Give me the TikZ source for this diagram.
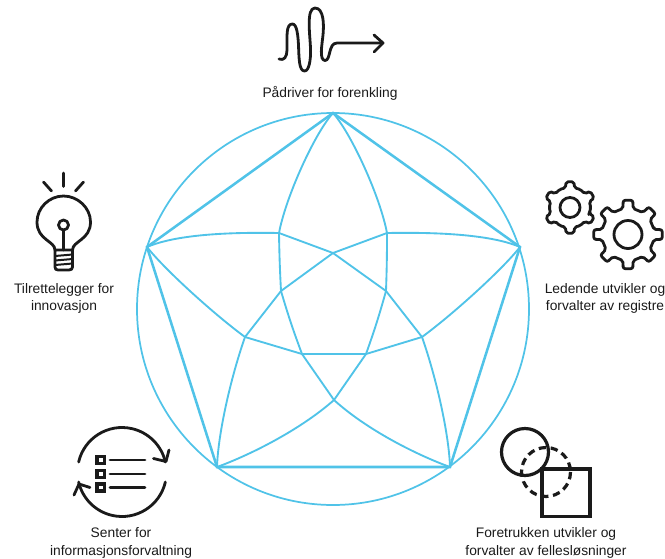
\documentclass[tikz,border=0pt]{standalone}
\usepackage{fontspec}
\setmainfont{Liberation Sans}
\definecolor{wheelblue}{RGB}{80,195,232}
\definecolor{iconblack}{RGB}{26,26,26}
\tikzset{every picture/.style={line width=0.75pt}}
\tikzset{
  rim/.style={draw=wheelblue,line width=1.3pt},
  edge/.style={draw=wheelblue,line width=1.9pt},
  vein/.style={draw=wheelblue,line width=1.4pt},
  icon/.style={draw=iconblack,line width=2.1pt,line cap=round,line join=round},
  heavyicon/.style={draw=iconblack,line width=2.4pt},
  rolelabel/.style={inner sep=0pt,align=center,text=iconblack,font=\fontsize{10.35}{13}\selectfont},
}

\begin{document}
\begin{tikzpicture}[x=0.75pt,y=0.75pt,yscale=-1,xscale=1]
		\useasboundingbox (0,0) rectangle (665,558);
		
		%Wheel
		\coordinate (hub) at (333,309);
		\coordinate (tipN) at (333,113);
		\coordinate (tipE) at (520,247);
		\coordinate (tipSE) at (450,467);
		\coordinate (tipSW) at (217,467);
		\coordinate (tipW) at (147,247);
		\coordinate (armNW) at (279,233);
		\coordinate (armNE) at (387,233);
		\coordinate (armW) at (245,337);
		\coordinate (armE) at (422,337);
		\coordinate (armS) at (334,400);
		\coordinate (coreN) at (333,253);
		\coordinate (coreE) at (386,291);
		\coordinate (coreSE) at (366,354);
		\coordinate (coreSW) at (302,354);
		\coordinate (coreW) at (281,291);
		
		\draw [rim] (hub) circle (196);
		\draw [edge] (tipN) -- (tipE) -- (tipSE) -- (tipSW) -- (tipW) -- cycle;
		
		%long veins
		\draw [vein] (tipN) .. controls (315,133) and (286,196) .. (armNW);
		\draw [vein] (tipN) .. controls (351,133) and (380,196) .. (armNE);
		\draw [vein] (tipW) .. controls (175,235) and (225,232) .. (armNW);
		\draw [vein] (tipE) .. controls (492,235) and (441,232) .. (armNE);
		\draw [vein] (tipW) .. controls (165,270) and (215,315) .. (armW);
		\draw [vein] (tipE) .. controls (502,270) and (452,315) .. (armE);
		\draw [vein] (tipSW) .. controls (218,435) and (230,380) .. (armW);
		\draw [vein] (tipSE) .. controls (449,435) and (437,380) .. (armE);
		\draw [vein] (tipSW) .. controls (250,455) and (300,430) .. (armS);
		\draw [vein] (tipSE) .. controls (417,455) and (367,430) .. (armS);
		
		%inner star
		\draw [vein] (armNW) -- (coreN) -- (armNE);
		\draw [vein] (armNW) to[bend left=1] (coreW);
		\draw [vein] (armNE) to[bend right=1] (coreE);
		\draw [vein] (coreN) -- (coreW) -- (armW);
		\draw [vein] (coreN) -- (coreE) -- (armE);
		\draw [vein] (coreW) to[bend left=2] (coreSW);
		\draw [vein] (coreE) to[bend right=2] (coreSE);
		\draw [vein] (armW) -- (coreSW) -- (coreSE) -- (armE);
		\draw [vein] (coreSW) -- (armS) -- (coreSE);
		
		%Icon: winding road
		\draw [icon] (279,59) .. controls (284,61) and (287,57) .. (287,50) .. controls (287,35) and (286,24) .. (292.5,24) .. controls (297,24) and (298,36) .. (298.5,45) .. controls (299,58) and (299,71) .. (304.5,71) .. controls (309,71) and (311,60) .. (310.5,48) .. controls (310,35) and (306,8) .. (315,8) .. controls (324,8) and (324,25) .. (323,35) .. controls (322,45) and (319,60) .. (325,60.5) .. controls (331,60.5) and (328,43) .. (337,43) -- (383,43);
		\draw [icon] (374,35) -- (383,43) -- (374,52);
		
		%Icon: light bulb
		\draw [icon] (63.5,173) -- (63.5,186.5);
		\draw [icon] (43.5,182) -- (51.5,191);
		\draw [icon] (83.5,182) -- (75.5,191);
		\draw [icon] (55,250) .. controls (55,241) and (37,240) .. (37,222) .. controls (37,208) and (49,196) .. (63.5,196) .. controls (78,196) and (90.5,208) .. (90.5,222) .. controls (90.5,240) and (72.5,241) .. (72.5,250);
		\draw [icon] (63.5,225) circle (5);
		\draw [icon] (63.5,230) -- (63.5,250);
		\draw [icon] (55,250) -- (72.5,250) -- (72.5,267) .. controls (72.5,269) and (71,270) .. (69,270) -- (58,270) .. controls (56,270) and (55,269) .. (55,267) -- cycle;
		\draw [icon,line width=1.5pt] (55,256) -- (72.5,254.5);
		\draw [icon,line width=1.5pt] (55,260.5) -- (72.5,259);
		\draw [icon,line width=1.5pt] (55,265) -- (72.5,263.5);
		
		%Icon: gears
		\begin{scope}[shift={(570,207.5)}]
			\draw [icon,rounded corners=1.5pt] (15:20) \foreach \a in {30,90,...,330} { -- (\a-13:20) -- (\a-9:26) -- (\a+9:26) -- (\a+13:20) -- (\a+30:21) } -- cycle;
			\draw [icon] (0,0) circle (10);
		\end{scope}
		\begin{scope}[shift={(628,234.5)}]
			\draw [icon,rounded corners=1.5pt] (-11:26.5) \foreach \a in {0,45,...,315} { -- (\a-11:26.5) -- (\a-8:34.5) -- (\a+8:34.5) -- (\a+11:26.5) } -- cycle;
			\draw [icon] (0,0) circle (14);
		\end{scope}
		
		%Icon: list in cycle
		\draw [icon] ([shift={(193:44.5)}]122,472) arc (193:347:44.5);
		\draw [icon] (153.5,458.5) -- (166,461.5) -- (169,450);
		\draw [icon] ([shift={(13:44.5)}]122,472) arc (13:167:44.5);
		\draw [icon] (90,487.5) -- (79,484) -- (74,495);
		\foreach \yy in {460,474,487.5} {
			\draw [heavyicon] (97,\yy-3.5) rectangle (104.5,\yy+3.5);
			\draw [icon] (110,\yy) -- (145,\yy);
		}
		
		%Icon: circle and square
		\draw [heavyicon] (525,452) circle (23.5);
		\draw [heavyicon,dash pattern=on 5.5pt off 3.5pt] (546,472) circle (24.5);
		\draw [heavyicon] (542,469) rectangle (590,516.5);
		
		%Labels
		\node [rolelabel] (driver) at (330,93) {Pådriver for forenkling};
		\node [rolelabel] (enabler) at (64,298.5) {Tilrettelegger for\\innovasjon};
		\node [rolelabel] (registers) at (605,298.5) {Ledende utvikler og\\forvalter av registre};
		\node [rolelabel] (records) at (121,543) {Senter for\\informasjonsforvaltning};
		\node [rolelabel] (shared) at (546,543) {Foretrukken utvikler og\\forvalter av fellesløsninger};
\end{tikzpicture}
\end{document}
